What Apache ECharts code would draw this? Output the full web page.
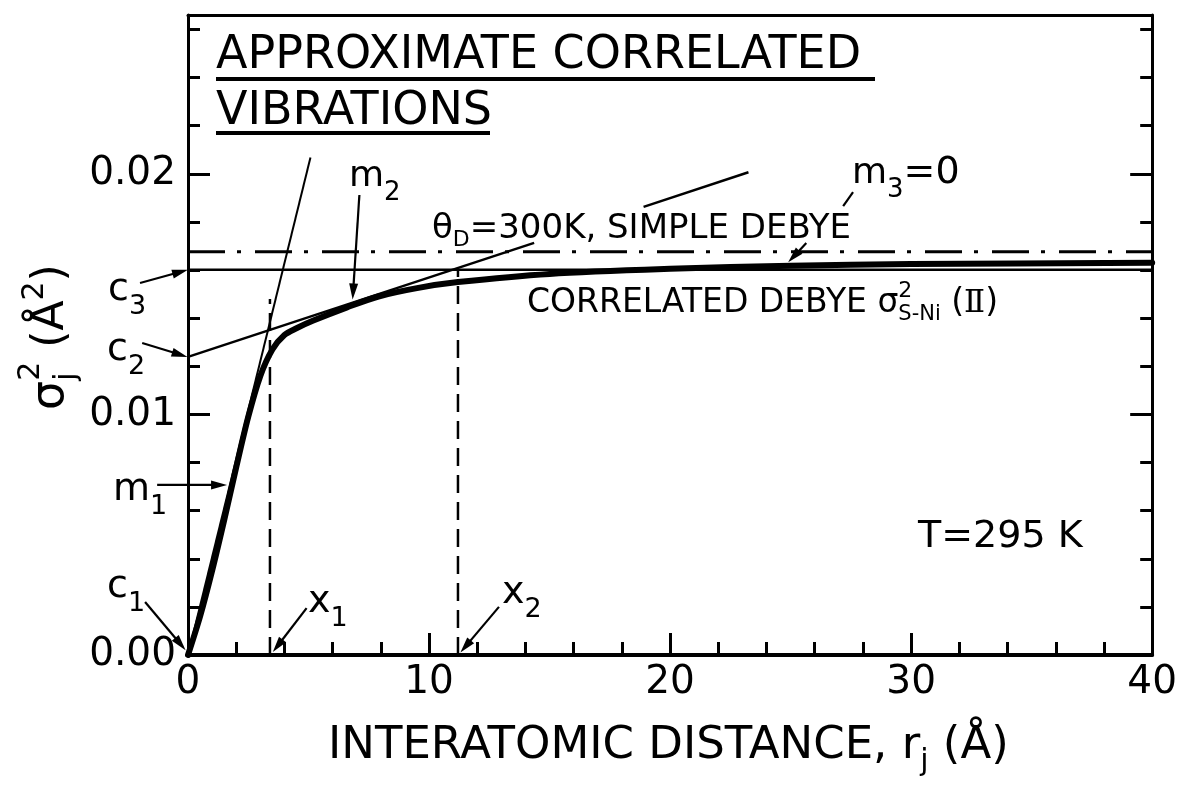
<!DOCTYPE html>
<html>
<head>
<meta charset="utf-8">
<script src="https://cdn.jsdelivr.net/npm/echarts@6/dist/echarts.min.js"></script>
<style>
  html, body { margin: 0; padding: 0; background: #fff; }
  #chart { width: 1180px; height: 788px; }
</style>
</head>
<body>
<div id="chart"></div>
<script>
// ---- data ---------------------------------------------------------------
// Correlated Debye sigma_j^2 (Å^2) against interatomic distance r_j (Å)
const curveR = [0, 0.5, 1.0, 1.5, 2.0, 2.5, 3.0, 3.5, 4.0, 4.5, 5.2, 6.6, 7.9, 9.5, 11.2, 15, 20, 25, 30, 40];
const curveS = [0, 0.0016, 0.0035, 0.0056, 0.0078, 0.0099, 0.0116, 0.0127, 0.0133, 0.01358, 0.0139, 0.01445, 0.0149, 0.01525, 0.0155, 0.01584, 0.01605, 0.01618, 0.01625, 0.0163];

// Simple Debye value (theta_D = 300 K)
const simpleDebye = 0.01676;

// Piecewise-linear approximation: intercepts c, slopes m, break points x
const c1 = 0, m1 = 0.00407;
const c2 = 0.01239, m2 = 0.00033;
const c3 = 0.01601, m3 = 0;
const x1 = 3.4, x2 = 11.2;

// Extent of the drawn guide lines (Å)
const m1LineEnd = 5.08;
const c2LineParts = [[0, 14.36], [18.9, 23.25]];
const x1DashTop = 0.0148;

// Axis ranges and labelled ticks
const rRange = [0, 40];
const sRange = [0, 0.0266];
const sLabelled = [0, 0.01, 0.02];

// Annotation arrows: [r0, s0, r1, s1, arrowhead]
const arrows = [
  [-1.99, 0.01546, 0, c3, 1],              // c3
  [-1.90, 0.01297, -0.02, c2, 1],          // c2
  [-1.28, 0.00707, 1.62, 0.00707, 1],      // m1
  [-1.78, 0.00220, -0.10, 0.00020, 1],     // c1
  [4.92, 0.00195, 3.52, 0.00012, 1],       // x1
  [12.9, 0.00200, 11.3, 0.00010, 1],       // x2
  [7.11, 0.01912, 6.83, 0.01478, 1],       // m2
  [27.59, 0.01924, 27.18, 0.01866, 0],     // m3 (upper part)
  [25.65, 0.01712, 24.90, 0.01632, 1]      // m3 (arrow)
];

// ---- helpers ------------------------------------------------------------
const SANS = '"DejaVu Sans", "Liberation Sans", sans-serif';
const SERIF = '"DejaVu Serif", "Liberation Serif", serif';
const mctx = document.createElement('canvas').getContext('2d');
function fontStr(size, fam) { return size + 'px ' + (fam || SANS); }
function textWidth(t, size, fam) { mctx.font = fontStr(size, fam); return mctx.measureText(t).width; }
// distance from the alphabetic baseline up to the 'middle' baseline
function midOffset(size, fam) {
  mctx.font = fontStr(size, fam);
  mctx.textBaseline = 'alphabetic';
  const a = mctx.measureText('H').actualBoundingBoxAscent;
  mctx.textBaseline = 'middle';
  const b = mctx.measureText('H').actualBoundingBoxAscent;
  mctx.textBaseline = 'alphabetic';
  return a - b;
}
// A run of text pieces sharing one baseline; piece = [text, size, dy, family, keepX]
function textRun(x, y, pieces, rotation) {
  let cx = 0;
  const children = [];
  pieces.forEach(p => {
    const [t, size, dy, fam, noAdvance] = p;
    children.push({
      type: 'text', x: cx, y: (dy || 0) - midOffset(size, fam),
      style: { text: t, font: fontStr(size, fam), fill: '#000', align: 'left', verticalAlign: 'middle' }
    });
    if (!noAdvance) cx += textWidth(t, size, fam);
  });
  return { type: 'group', x: x, y: y, rotation: rotation || 0, children: children, silent: true };
}
function hLine(xa, xb, y, w) {
  return { type: 'line', shape: { x1: xa, y1: y, x2: xb, y2: y }, style: { stroke: '#000', lineWidth: w }, silent: true };
}

// ---- chart --------------------------------------------------------------
const chart = echarts.init(document.getElementById('chart'), null, { renderer: 'canvas' });

const black = '#000';
const tickFont = { color: black, fontFamily: SANS, fontSize: 39 };

function seg(ra, rb, fn) { return [[ra, fn(ra)], [rb, fn(rb)]]; }
const lineOfC2 = r => c2 + m2 * r;

const series = [
  { // simple Debye
    type: 'line', data: [[rRange[0], simpleDebye], [rRange[1], simpleDebye]],
    symbol: 'none', lineStyle: { color: black, width: 3, type: [37, 12, 4, 14], cap: 'butt' }
  },
  { // c3 level (m3 = 0)
    type: 'line', data: seg(rRange[0], rRange[1], r => c3 + m3 * r),
    symbol: 'none', lineStyle: { color: black, width: 2.5 }
  },
  { // first segment, slope m1 from c1
    type: 'line', data: seg(0, m1LineEnd, r => c1 + m1 * r),
    symbol: 'none', lineStyle: { color: black, width: 2 }
  },
  ...c2LineParts.map(p => ({
    type: 'line', data: seg(p[0], p[1], lineOfC2),
    symbol: 'none', lineStyle: { color: black, width: 2.5 }
  })),
  { // break point x1
    type: 'line', data: [[x1, 0], [x1, x1DashTop]],
    symbol: 'none', lineStyle: { color: black, width: 2.5, type: [18, 9] }
  },
  { // break point x2
    type: 'line', data: [[x2, 0], [x2, c3]],
    symbol: 'none', lineStyle: { color: black, width: 2.5, type: [18, 9] }
  },
  { // correlated Debye curve
    type: 'line', data: curveR.map((r, i) => [r, curveS[i]]),
    symbol: 'none', smooth: 0.3,
    lineStyle: { color: black, width: 6, cap: 'round', join: 'round' }
  },
  { // annotation arrows
    type: 'custom', coordinateSystem: 'cartesian2d', clip: false, silent: true,
    encode: { x: [0, 2], y: [1, 3] },
    data: arrows,
    renderItem: function (params, api) {
      const p0 = api.coord([api.value(0), api.value(1)]);
      const p1 = api.coord([api.value(2), api.value(3)]);
      const head = api.value(4) === 1;
      const dx = p1[0] - p0[0], dy = p1[1] - p0[1];
      const L = Math.hypot(dx, dy), ux = dx / L, uy = dy / L;
      const hl = 16, hw = 4.5;
      const bx = p1[0] - ux * hl, by = p1[1] - uy * hl;
      const children = [{
        type: 'line',
        shape: { x1: p0[0], y1: p0[1], x2: head ? bx + ux * 2 : p1[0], y2: head ? by + uy * 2 : p1[1] },
        style: { stroke: black, lineWidth: 2.2 }
      }];
      if (head) {
        children.push({
          type: 'polygon',
          shape: { points: [[p1[0], p1[1]], [bx - uy * hw, by + ux * hw], [bx + uy * hw, by - ux * hw]] },
          style: { fill: black }
        });
      }
      return { type: 'group', children: children };
    }
  }
];

const option = {
  animation: false,
  backgroundColor: '#fff',
  grid: { left: 188, right: 25, top: 15, bottom: 133 },
  xAxis: [{
    type: 'value', position: 'bottom', min: rRange[0], max: rRange[1], interval: 10,
    axisLine: { show: true, onZero: false, lineStyle: { color: black, width: 4 } },
    axisTick: { show: true, inside: true, length: 22, lineStyle: { color: black, width: 3 } },
    minorTick: { show: true, splitNumber: 5, length: 13, lineStyle: { color: black, width: 3 } },
    axisLabel: Object.assign({ margin: 8 }, tickFont),
    splitLine: { show: false }
  }, {
    type: 'value', position: 'top', min: rRange[0], max: rRange[1],
    axisLine: { show: true, onZero: false, lineStyle: { color: black, width: 3 } },
    axisTick: { show: false }, axisLabel: { show: false }, splitLine: { show: false }
  }],
  yAxis: [{
    type: 'value', position: 'left', min: sRange[0], max: sRange[1], interval: 0.01,
    axisLine: { show: true, onZero: false, lineStyle: { color: black, width: 3 } },
    axisTick: { show: true, inside: true, length: 22, lineStyle: { color: black, width: 3 } },
    minorTick: { show: true, splitNumber: 5, length: 12, lineStyle: { color: black, width: 3 } },
    axisLabel: Object.assign({
      margin: 12, showMaxLabel: false,
      formatter: v => sLabelled.some(s => Math.abs(s - v) < 1e-9) ? v.toFixed(2) : ''
    }, tickFont),
    splitLine: { show: false }
  }, {
    type: 'value', position: 'right', min: sRange[0], max: sRange[1], interval: 0.01,
    axisLine: { show: true, onZero: false, lineStyle: { color: black, width: 3 } },
    axisTick: { show: true, inside: true, length: 22, lineStyle: { color: black, width: 3 } },
    minorTick: { show: true, splitNumber: 5, length: 12, lineStyle: { color: black, width: 3 } },
    axisLabel: { show: false }, splitLine: { show: false }
  }],
  series: series,
  graphic: [
    // heading
    textRun(216, 68, [['APPROXIMATE CORRELATED', 46]]),
    hLine(216, 875, 79, 4),
    textRun(216, 124, [['VIBRATIONS', 46]]),
    hLine(216, 490, 133, 4),

    // axis names
    textRun(328, 758, [['INTERATOMIC DISTANCE, r', 45], ['j', 30, 12], [' (Å)', 45]]),
    textRun(63, 410, [['σ', 46], ['j', 30, 12, null, true], ['2', 30, -24], [' (Å', 44], ['2', 30, -20], [')', 44]], Math.PI / 2),

    // curve annotations
    textRun(432, 238, [['θ', 34], ['D', 22, 8], ['=300K, SIMPLE DEBYE', 34]]),
    textRun(527, 312, [['CORRELATED DEBYE σ', 33], ['2', 22, -15, null, true], ['S-Ni', 21, 8], [' (', 33], ['Ⅱ', 31, 0, SERIF], [')', 33]]),
    textRun(852, 183, [['m', 36], ['3', 26, 14], ['=0', 38]]),
    textRun(349, 186, [['m', 36], ['2', 26, 14]]),
    textRun(918, 547, [['T=295 K', 38]]),

    // intercept / slope / break-point labels
    textRun(108, 300, [['c', 38], ['3', 27, 14]]),
    textRun(107, 360, [['c', 38], ['2', 27, 14]]),
    textRun(113, 500, [['m', 38], ['1', 27, 14]]),
    textRun(107, 597, [['c', 38], ['1', 27, 14]]),
    textRun(308, 612, [['x', 38], ['1', 27, 14]]),
    textRun(502, 603, [['x', 38], ['2', 27, 14]])
  ]
};

chart.setOption(option);
</script>
</body>
</html>
